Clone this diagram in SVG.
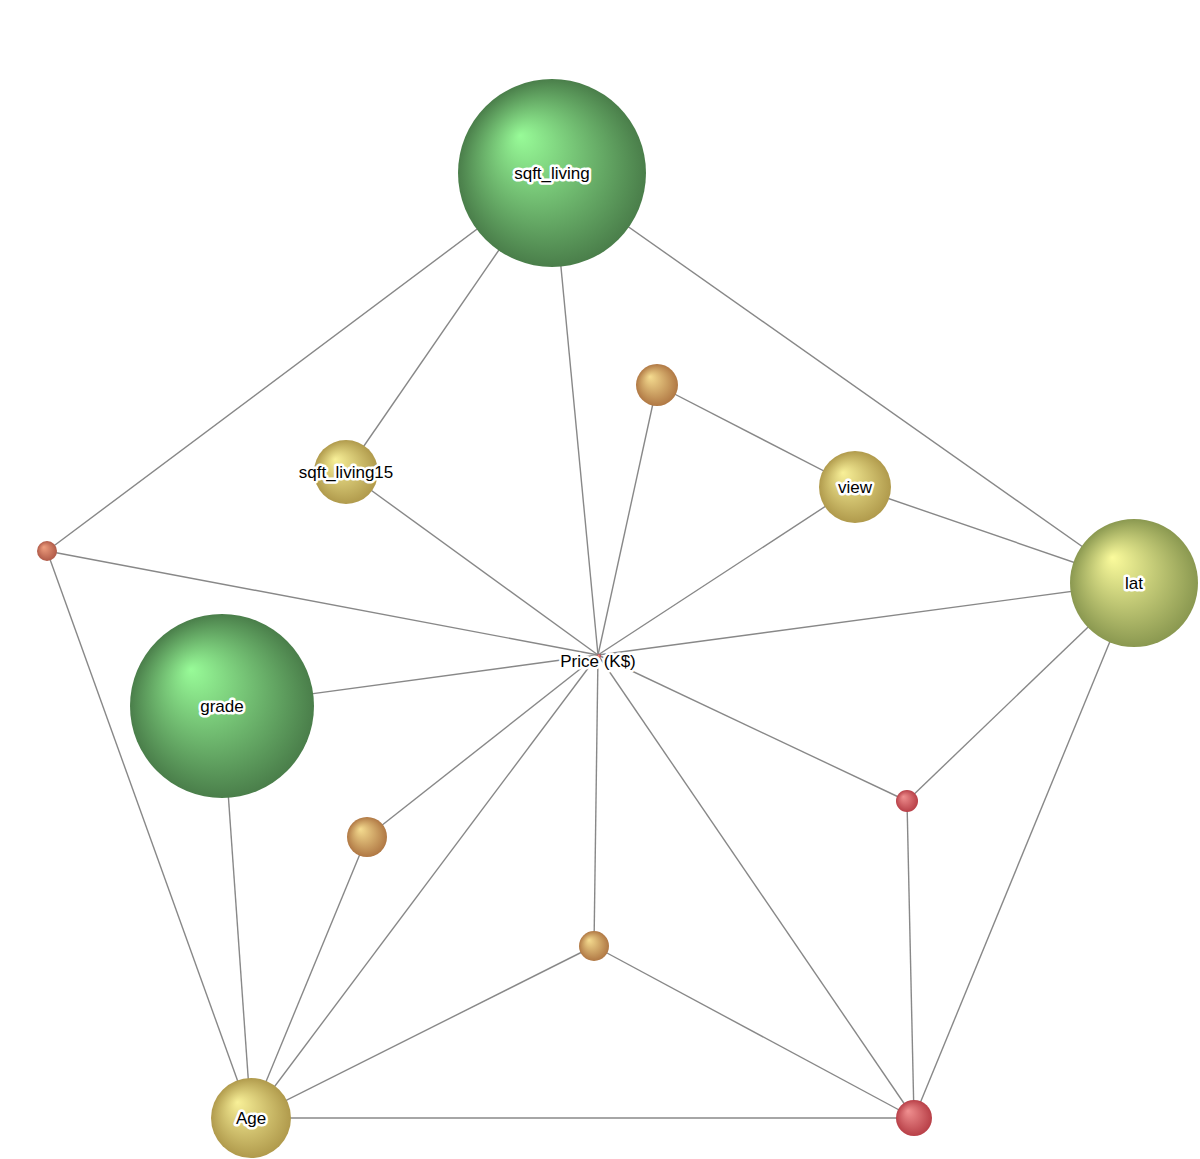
<svg xmlns="http://www.w3.org/2000/svg" width="1200" height="1159" viewBox="0 0 1200 1159">
<style>
.edge{stroke:#888;stroke-width:1.4;fill:none}
.lbl{font-family:"Liberation Sans",Arial,sans-serif;font-size:17px;fill:#000;text-anchor:middle;dominant-baseline:central;stroke:#fff;stroke-width:5px;stroke-linejoin:round;paint-order:stroke}
</style>
<defs>
<radialGradient id="gGreen" cx="0.5" cy="0.5" r="0.5" fx="0.33" fy="0.3"><stop offset="0" stop-color="#98fb98"/><stop offset="1" stop-color="#4a7e4a"/></radialGradient>
<radialGradient id="gLat" cx="0.5" cy="0.5" r="0.5" fx="0.33" fy="0.3"><stop offset="0" stop-color="#fbfb9c"/><stop offset="1" stop-color="#8a9850"/></radialGradient>
<radialGradient id="gGold" cx="0.5" cy="0.5" r="0.5" fx="0.33" fy="0.3"><stop offset="0" stop-color="#f8f098"/><stop offset="1" stop-color="#b09a4c"/></radialGradient>
<radialGradient id="gOrange" cx="0.5" cy="0.5" r="0.5" fx="0.33" fy="0.3"><stop offset="0" stop-color="#f5dc90"/><stop offset="1" stop-color="#b07844"/></radialGradient>
<radialGradient id="gRedO" cx="0.5" cy="0.5" r="0.5" fx="0.33" fy="0.3"><stop offset="0" stop-color="#f0a080"/><stop offset="1" stop-color="#b05a48"/></radialGradient>
<radialGradient id="gRed" cx="0.5" cy="0.5" r="0.5" fx="0.33" fy="0.3"><stop offset="0" stop-color="#f09090"/><stop offset="1" stop-color="#b84048"/></radialGradient>
</defs>
<rect width="1200" height="1159" fill="#fff"/>
<g id="edges">
<line class="edge" x1="552" y1="173" x2="47" y2="551"/>
<line class="edge" x1="552" y1="173" x2="346" y2="472"/>
<line class="edge" x1="552" y1="173" x2="598" y2="655"/>
<line class="edge" x1="552" y1="173" x2="1134" y2="583"/>
<line class="edge" x1="657" y1="385" x2="855" y2="487"/>
<line class="edge" x1="657" y1="385" x2="598" y2="655"/>
<line class="edge" x1="855" y1="487" x2="1134" y2="583"/>
<line class="edge" x1="855" y1="487" x2="598" y2="655"/>
<line class="edge" x1="346" y1="472" x2="598" y2="655"/>
<line class="edge" x1="47" y1="551" x2="598" y2="655"/>
<line class="edge" x1="47" y1="551" x2="251" y2="1118"/>
<line class="edge" x1="1134" y1="583" x2="598" y2="655"/>
<line class="edge" x1="1134" y1="583" x2="907" y2="801"/>
<line class="edge" x1="1134" y1="583" x2="914" y2="1118"/>
<line class="edge" x1="222" y1="706" x2="598" y2="655"/>
<line class="edge" x1="222" y1="706" x2="251" y2="1118"/>
<line class="edge" x1="367" y1="837" x2="598" y2="655"/>
<line class="edge" x1="367" y1="837" x2="251" y2="1118"/>
<line class="edge" x1="251" y1="1118" x2="598" y2="655"/>
<line class="edge" x1="594" y1="946" x2="598" y2="655"/>
<line class="edge" x1="594" y1="946" x2="251" y2="1118"/>
<line class="edge" x1="594" y1="946" x2="914" y2="1118"/>
<line class="edge" x1="598" y1="655" x2="907" y2="801"/>
<line class="edge" x1="598" y1="655" x2="914" y2="1118"/>
<line class="edge" x1="907" y1="801" x2="914" y2="1118"/>
<line class="edge" x1="251" y1="1118" x2="914" y2="1118"/>
</g>
<g id="node-sqft_living"><circle cx="552" cy="173" r="94" fill="url(#gGreen)"/><text class="lbl" x="552" y="173">sqft_living</text></g>
<g id="node-sqft_living15"><circle cx="346" cy="472" r="32" fill="url(#gGold)"/><text class="lbl" x="346" y="472">sqft_living15</text></g>
<g id="node-n1"><circle cx="657" cy="385" r="21" fill="url(#gOrange)"/></g>
<g id="node-view"><circle cx="855" cy="487" r="36" fill="url(#gGold)"/><text class="lbl" x="855" y="487">view</text></g>
<g id="node-lat"><circle cx="1134" cy="583" r="64" fill="url(#gLat)"/><text class="lbl" x="1134" y="583">lat</text></g>
<g id="node-n2"><circle cx="47" cy="551" r="10" fill="url(#gRedO)"/></g>
<g id="node-grade"><circle cx="222" cy="706" r="92" fill="url(#gGreen)"/><text class="lbl" x="222" y="706">grade</text></g>
<g id="node-price"><circle cx="599" cy="656" r="2" fill="url(#gRed)"/><text class="lbl" x="598" y="661">Price (K$)</text></g>
<g id="node-n3"><circle cx="367" cy="837" r="20" fill="url(#gOrange)"/></g>
<g id="node-n4"><circle cx="907" cy="801" r="11" fill="url(#gRed)"/></g>
<g id="node-n5"><circle cx="594" cy="946" r="15" fill="url(#gOrange)"/></g>
<g id="node-age"><circle cx="251" cy="1118" r="40" fill="url(#gGold)"/><text class="lbl" x="251" y="1118">Age</text></g>
<g id="node-n6"><circle cx="914" cy="1118" r="18" fill="url(#gRed)"/></g>
</svg>
